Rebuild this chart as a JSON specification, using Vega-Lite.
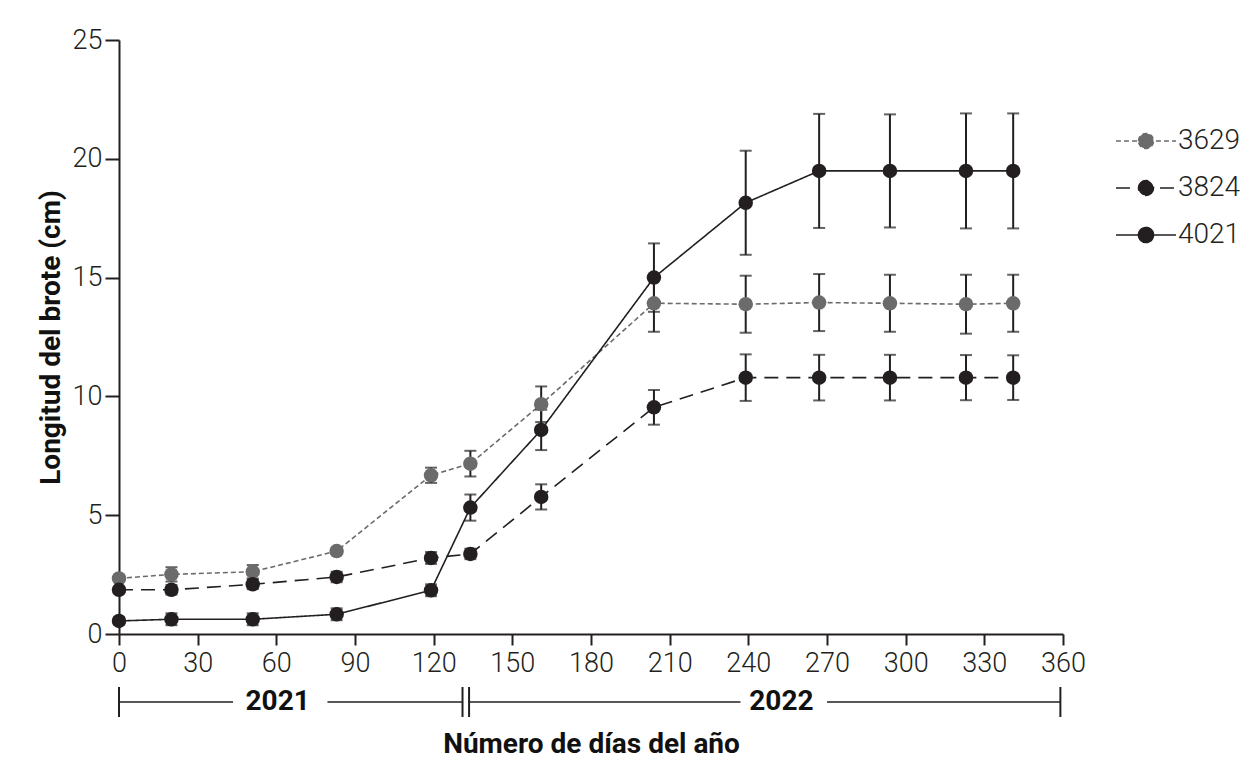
{
  "$schema": "https://vega.github.io/schema/vega-lite/v6.json",
  "background": "white",
  "padding": {"left": 37, "top": 26, "right": 0, "bottom": 0},
  "config": {
    "font": "Roboto",
    "view": {"stroke": null},
    "axis": {
      "grid": false,
      "labelFont": "Roboto",
      "labelFontSize": 27,
      "labelFontWeight": 300,
      "labelColor": "#231f20",
      "labelFlush": false,
      "domainColor": "#231f20",
      "domainWidth": 2,
      "tickColor": "#231f20",
      "tickWidth": 2,
      "titleFont": "Roboto",
      "titleFontSize": 28,
      "titleFontWeight": "bold",
      "titleColor": "#111111"
    }
  },
  "datasets": {
    "brote": [
      {"cv": "3629", "dia": 0, "media": 2.34, "ee": 0.12},
      {"cv": "3629", "dia": 20, "media": 2.51, "ee": 0.3},
      {"cv": "3629", "dia": 51, "media": 2.62, "ee": 0.28},
      {"cv": "3629", "dia": 83, "media": 3.49, "ee": 0.12},
      {"cv": "3629", "dia": 119, "media": 6.68, "ee": 0.32},
      {"cv": "3629", "dia": 134, "media": 7.17, "ee": 0.54},
      {"cv": "3629", "dia": 161, "media": 9.67, "ee": 0.75},
      {"cv": "3629", "dia": 204, "media": 13.92, "ee": 1.2},
      {"cv": "3629", "dia": 239, "media": 13.88, "ee": 1.2},
      {"cv": "3629", "dia": 267, "media": 13.95, "ee": 1.2},
      {"cv": "3629", "dia": 294, "media": 13.92, "ee": 1.2},
      {"cv": "3629", "dia": 323, "media": 13.88, "ee": 1.24},
      {"cv": "3629", "dia": 341, "media": 13.92, "ee": 1.2},
      {"cv": "3824", "dia": 0, "media": 1.86, "ee": 0.12},
      {"cv": "3824", "dia": 20, "media": 1.86, "ee": 0.2},
      {"cv": "3824", "dia": 51, "media": 2.09, "ee": 0.2},
      {"cv": "3824", "dia": 83, "media": 2.4, "ee": 0.22},
      {"cv": "3824", "dia": 119, "media": 3.2, "ee": 0.25},
      {"cv": "3824", "dia": 134, "media": 3.37, "ee": 0.22},
      {"cv": "3824", "dia": 161, "media": 5.77, "ee": 0.53},
      {"cv": "3824", "dia": 204, "media": 9.54, "ee": 0.73},
      {"cv": "3824", "dia": 239, "media": 10.79, "ee": 0.98},
      {"cv": "3824", "dia": 267, "media": 10.79, "ee": 0.96},
      {"cv": "3824", "dia": 294, "media": 10.79, "ee": 0.96},
      {"cv": "3824", "dia": 323, "media": 10.79, "ee": 0.95},
      {"cv": "3824", "dia": 341, "media": 10.79, "ee": 0.94},
      {"cv": "4021", "dia": 0, "media": 0.55, "ee": 0.15},
      {"cv": "4021", "dia": 20, "media": 0.62, "ee": 0.25},
      {"cv": "4021", "dia": 51, "media": 0.62, "ee": 0.25},
      {"cv": "4021", "dia": 83, "media": 0.83, "ee": 0.25},
      {"cv": "4021", "dia": 119, "media": 1.84, "ee": 0.25},
      {"cv": "4021", "dia": 134, "media": 5.32, "ee": 0.55},
      {"cv": "4021", "dia": 161, "media": 8.59, "ee": 0.85},
      {"cv": "4021", "dia": 204, "media": 15.0, "ee": 1.44},
      {"cv": "4021", "dia": 239, "media": 18.15, "ee": 2.19},
      {"cv": "4021", "dia": 267, "media": 19.49, "ee": 2.4},
      {"cv": "4021", "dia": 294, "media": 19.49, "ee": 2.38},
      {"cv": "4021", "dia": 323, "media": 19.49, "ee": 2.42},
      {"cv": "4021", "dia": 341, "media": 19.49, "ee": 2.42}
    ],
    "barras": [
      {"dia": 0}, {"dia": 131}, {"dia": 133.5}, {"dia": 359}
    ],
    "tramos": [
      {"desde": 0, "hasta": 43.5},
      {"desde": 79.5, "hasta": 131},
      {"desde": 133.5, "hasta": 237},
      {"desde": 270, "hasta": 359}
    ],
    "anios": [
      {"dia": 60.5, "anio": "2021"},
      {"dia": 252.6, "anio": "2022"}
    ]
  },
  "spacing": 10,
  "vconcat": [
    {
      "width": 944,
      "height": 594,
      "data": {"name": "brote"},
      "encoding": {
        "x": {
          "field": "dia", "type": "quantitative",
          "scale": {"domain": [0, 360], "nice": false, "zero": false},
          "axis": {"title": null, "values": [0, 30, 60, 90, 120, 150, 180, 210, 240, 270, 300, 330, 360], "labelPadding": 5, "tickSize": 11}
        },
        "y": {
          "field": "media", "type": "quantitative",
          "scale": {"domain": [0, 25], "nice": false},
          "axis": {"title": "Longitud del brote (cm)", "values": [0, 5, 10, 15, 20, 25], "labelPadding": 3, "tickSize": 14, "titlePadding": 7}
        }
      },
      "layer": [
        {
          "mark": {"type": "line", "strokeWidth": 1.6},
          "encoding": {
            "color": {
              "field": "cv", "type": "nominal",
              "scale": {"domain": ["3629", "3824", "4021"], "range": ["#6b6b6b", "#231f20", "#231f20"]},
              "legend": {
                "title": null,
                "orient": "none",
                "legendX": 996,
                "legendY": 70,
                "padding": 0,
                "symbolType": "M-1,0L1,0M-0.25,0A0.25,0.25 0 1,1 0.25,0A0.25,0.25 0 1,1 -0.25,0Z",
                "symbolSize": 3600,
                "symbolStrokeWidth": 1.6,
                "labelFontSize": 28,
                "labelFontWeight": 300,
                "labelColor": "#231f20",
                "labelOffset": 1,
                "rowPadding": 2,
                "encode": {
                  "symbols": {"update": {"fill": {"scale": "color", "field": "value"}}}
                }
              }
            },
            "strokeDash": {
              "field": "cv", "type": "nominal",
              "scale": {"domain": ["3629", "3824", "4021"], "range": [[5, 3], [14, 8], [1, 0]]},
              "legend": {"title": null}
            }
          }
        },
        {
          "mark": {"type": "errorbar", "ticks": {"size": 12, "thickness": 2}, "rule": {"strokeWidth": 2}, "color": "#231f20"},
          "encoding": {
            "y": {"field": "media", "type": "quantitative"},
            "yError": {"field": "ee"},
            "detail": {"field": "cv", "type": "nominal"}
          }
        },
        {
          "mark": {"type": "point", "filled": true, "opacity": 1, "size": 210, "shape": "circle"},
          "encoding": {
            "color": {"field": "cv", "type": "nominal", "scale": {"domain": ["3629", "3824", "4021"], "range": ["#5f5f5f", "#231f20", "#231f20"]}}
          }
        }
      ]
    },
    {
      "width": 944,
      "height": 30,
      "layer": [
        {
          "data": {"name": "barras"},
          "mark": {"type": "rule", "color": "#231f20", "strokeWidth": 2},
          "encoding": {
            "x": {
              "field": "dia", "type": "quantitative",
              "scale": {"domain": [0, 360], "nice": false, "zero": false},
              "axis": {"title": "Número de días del año", "domain": false, "ticks": false, "labels": false, "titlePadding": 13}
            }
          }
        },
        {
          "data": {"name": "tramos"},
          "mark": {"type": "rule", "color": "#231f20", "strokeWidth": 1.6},
          "encoding": {
            "x": {"field": "desde", "type": "quantitative"},
            "x2": {"field": "hasta"},
            "y": {"datum": 0.5, "type": "quantitative", "scale": {"domain": [0, 1]}, "axis": null}
          }
        },
        {
          "data": {"name": "anios"},
          "mark": {"type": "text", "font": "Roboto", "fontSize": 28, "fontWeight": "bold", "color": "#111111", "baseline": "middle"},
          "encoding": {
            "x": {"field": "dia", "type": "quantitative"},
            "y": {"datum": 0.5, "type": "quantitative"},
            "text": {"field": "anio"}
          }
        }
      ]
    }
  ]
}
